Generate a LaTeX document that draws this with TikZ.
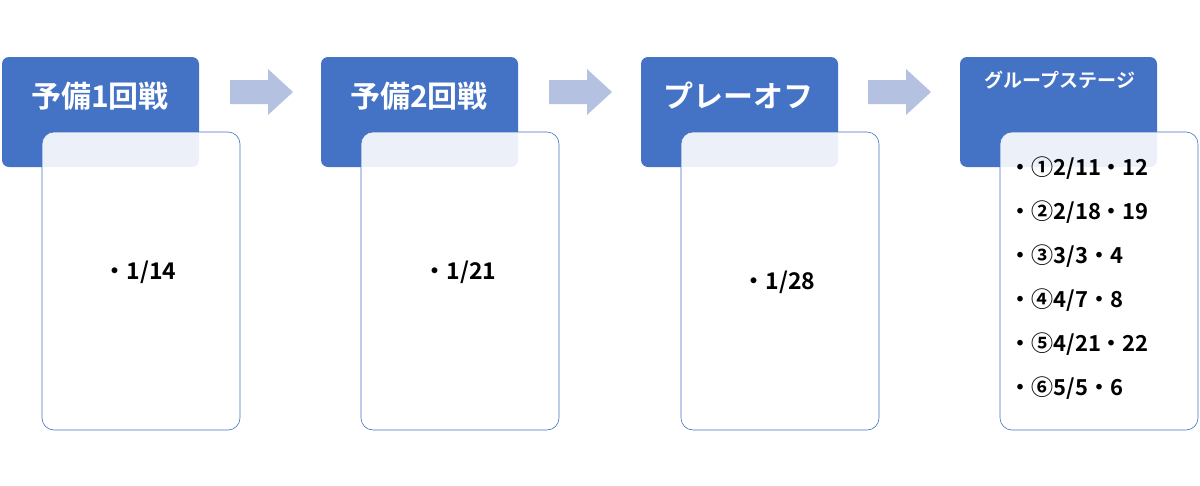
\documentclass[tikz,border=0pt]{standalone}
\usepackage{fontspec}
\setmainfont{Noto Sans CJK JP}[BoldFont={* Bold}]
\definecolor{hb}{HTML}{4472C4}
\definecolor{ab}{HTML}{B4C1E1}
\tikzset{
 head/.style={fill=hb,rounded corners=7pt,draw=none},
 card/.style={fill=white,fill opacity=0.9,draw=hb,line width=0.6pt,rounded corners=12pt},
 htxt/.style={text=white,font=\bfseries\fontsize{30}{34}\selectfont},
 ctxt/.style={font=\bfseries\fontsize{23}{28}\selectfont},
 gtxt/.style={font=\bfseries\fontsize{22}{26}\selectfont,anchor=west},
 arr/.style={fill=ab,draw=none},
}
\begin{document}
\begin{tikzpicture}[x=1pt,y=-1pt]
\useasboundingbox (0,0) rectangle (1200,485);
\foreach \x in {2,321,641,960}{
 \fill[head] (\x,57) rectangle ++(197,110);
 \path[card] (\x+40,132) rectangle ++(198,298);
}
\node[htxt] (h1) at (100,96) {予備1回戦};
\node[htxt] (h2) at (419,96) {予備2回戦};
\node[htxt] (h3) at (738,96) {プレーオフ};
\node[text=white,font=\bfseries\fontsize{19}{22}\selectfont] (h4) at (1060,80) {グループステージ};
\foreach \x in {230,549,868}{
 \fill[arr] (\x,80) -- (\x+38,80) -- (\x+38,69) -- (\x+63,92) -- (\x+38,115) -- (\x+38,104) -- (\x,104) -- cycle;
}
\node[ctxt] (t1) at (140,272) {・1/14};
\node[ctxt] (t2) at (460,272) {・1/21};
\node[ctxt] (t3) at (779,282) {・1/28};
\node[gtxt] (g0) at (1006,168) {・①2/11・12};
\node[gtxt] (g1) at (1006,212) {・②2/18・19};
\node[gtxt] (g2) at (1006,256) {・③3/3・4};
\node[gtxt] (g3) at (1006,300) {・④4/7・8};
\node[gtxt] (g4) at (1006,344) {・⑤4/21・22};
\node[gtxt] (g5) at (1006,388) {・⑥5/5・6};
\end{tikzpicture}
\end{document}
